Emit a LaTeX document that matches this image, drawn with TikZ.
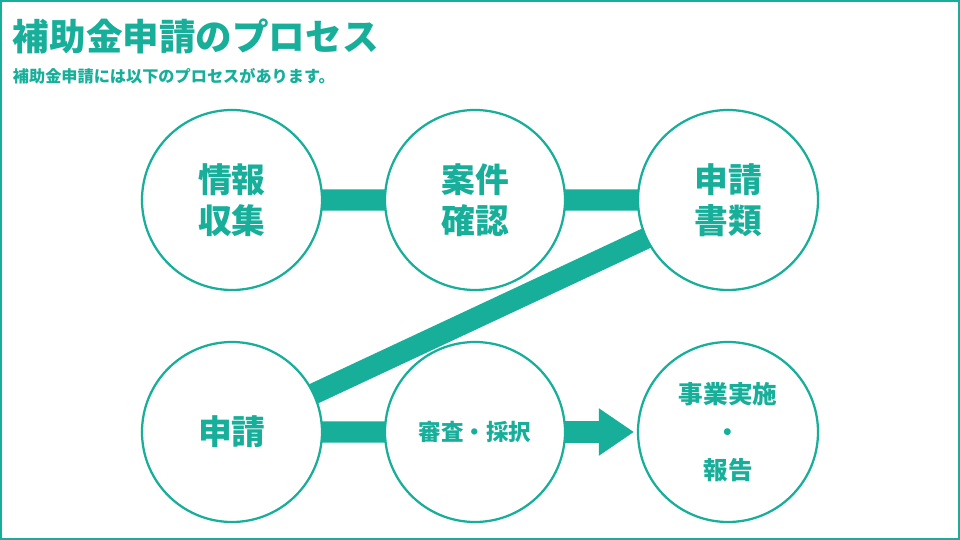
\documentclass[tikz,border=0pt]{standalone}
\usepackage{fontspec}
\setmainfont{Noto Sans CJK JP}
\usetikzlibrary{arrows.meta}
\definecolor{teal}{HTML}{17AE9A}
\tikzset{
  stage/.style={circle, draw=teal, line width=1.6pt, fill=white, minimum size=128pt,
    inner sep=0pt, align=center, text=teal, font=\bfseries\fontsize{24}{29}\selectfont},
  bar/.style={draw=teal, line width=15pt}
}
\begin{document}
\begin{tikzpicture}[x=0.025cm, y=-0.025cm]
\draw[teal, line width=1.4pt, fill=white] (1,1) rectangle (959,539);
\node[anchor=west, text=teal, font=\bfseries\fontsize{26}{30}\selectfont] (title) at (8,36) {補助金申請のプロセス};
\node[anchor=west, text=teal, font=\bfseries\fontsize{11.5}{14}\selectfont] (sub) at (8,76) {補助金申請には以下のプロセスがあります。};
% stages
\coordinate (p1) at (232,200);
\coordinate (p2) at (475,200);
\coordinate (p3) at (728,200);
\coordinate (p4) at (232,432);
\coordinate (p5) at (475,432);
\coordinate (tip) at (634,432);
\draw[bar] (p1) -- (p2) -- (p3) -- (p4) -- (p5);
\draw[bar, -{Triangle[length=25pt,width=32pt]}] (p5) -- (tip);
\node[stage] (s1) at (p1) {情報\\収集};
\node[stage] (s2) at (p2) {案件\\確認};
\node[stage] (s3) at (p3) {申請\\書類};
\node[stage] (s4) at (p4) {申請};
\node[stage, font=\bfseries\fontsize{16}{20}\selectfont] (s5) at (p5) {審査・採択};
\node[stage, font=\bfseries\fontsize{17.5}{27}\selectfont] (s6) at (728,432) {事業実施\\・\\報告};
\end{tikzpicture}
\end{document}
